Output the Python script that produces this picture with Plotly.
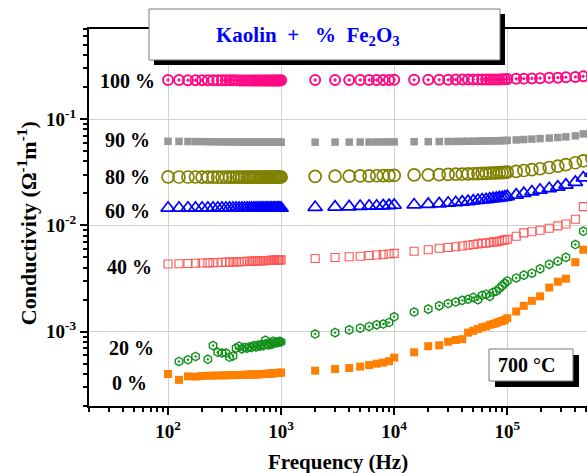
import plotly.graph_objects as go

FREQ = [100, 125, 150, 175, 200, 225, 250, 275, 300, 325, 350, 375, 400, 425, 450, 475, 500,
        525, 550, 575, 600, 625, 650, 675, 700, 725, 750, 775, 800, 825, 850, 875, 900, 925,
        950, 975, 1000,
        2000, 3000, 4000, 5000, 6000, 7000, 8000, 9000, 10000,
        15000, 20000, 25000, 30000, 35000, 40000, 45000, 50000, 55000, 60000, 65000, 70000,
        75000, 80000, 85000, 90000, 95000, 100000,
        120000, 140000, 165000, 195000, 235000, 280000, 330000, 400000, 470000, 560000]

S100 = [0.233, 0.233, 0.232, 0.232, 0.232, 0.232, 0.232, 0.232, 0.232, 0.232, 0.232, 0.232,
        0.232, 0.231, 0.231, 0.231, 0.231, 0.231, 0.231, 0.231, 0.231, 0.231, 0.231, 0.231,
        0.231, 0.231, 0.231, 0.231, 0.231, 0.231, 0.231, 0.231, 0.231, 0.231, 0.231, 0.231, 0.232,
        0.233, 0.233, 0.233, 0.233, 0.233, 0.233, 0.233, 0.233, 0.234,
        0.234, 0.234, 0.234, 0.234, 0.235, 0.235, 0.235, 0.235, 0.235, 0.235, 0.235, 0.236,
        0.236, 0.236, 0.236, 0.237, 0.237, 0.238,
        0.239, 0.240, 0.241, 0.242, 0.244, 0.245, 0.247, 0.249, 0.252, 0.255]

S90 = [0.0618, 0.0616, 0.0615, 0.0614, 0.0613, 0.0612, 0.0612, 0.0611, 0.0611, 0.0610, 0.0610,
       0.0610, 0.0609, 0.0609, 0.0609, 0.0608, 0.0608, 0.0608, 0.0608, 0.0607, 0.0607, 0.0607,
       0.0607, 0.0607, 0.0606, 0.0606, 0.0606, 0.0606, 0.0606, 0.0606, 0.0605, 0.0605, 0.0605,
       0.0605, 0.0605, 0.0605, 0.0605,
       0.0606, 0.0607, 0.0607, 0.0608, 0.0608, 0.0609, 0.0609, 0.0610, 0.0610,
       0.0612, 0.0613, 0.0614, 0.0615, 0.0616, 0.0617, 0.0618, 0.0619, 0.0620, 0.0621, 0.0622,
       0.0623, 0.0624, 0.0625, 0.0626, 0.0627, 0.0628, 0.0630,
       0.0636, 0.0642, 0.0648, 0.0655, 0.0662, 0.0670, 0.0680, 0.0695, 0.0725, 0.0770]

S80 = [0.0286, 0.0285, 0.0285, 0.0285, 0.0284, 0.0284, 0.0284, 0.0284, 0.0284, 0.0284, 0.0284,
       0.0284, 0.0284, 0.0284, 0.0284, 0.0284, 0.0284, 0.0284, 0.0284, 0.0284, 0.0284, 0.0284,
       0.0284, 0.0284, 0.0284, 0.0284, 0.0284, 0.0284, 0.0284, 0.0284, 0.0284, 0.0284, 0.0284,
       0.0284, 0.0284, 0.0284, 0.0285,
       0.0289, 0.0290, 0.0291, 0.0292, 0.0292, 0.0293, 0.0294, 0.0294, 0.0295,
       0.0298, 0.0299, 0.0300, 0.0302, 0.0303, 0.0304, 0.0305, 0.0306, 0.0307, 0.0308, 0.0309,
       0.0310, 0.0311, 0.0312, 0.0313, 0.0314, 0.0315, 0.0317,
       0.0322, 0.0328, 0.0334, 0.0341, 0.0350, 0.0360, 0.0372, 0.0388, 0.0405, 0.0425]

S60 = [0.01455, 0.01455, 0.01455, 0.01455, 0.01455, 0.01455, 0.01455, 0.01455, 0.01455, 0.01455,
       0.01455, 0.01455, 0.01455, 0.01455, 0.01455, 0.01455, 0.01455, 0.01455, 0.01455, 0.01455,
       0.01455, 0.01455, 0.01455, 0.01455, 0.01455, 0.01455, 0.01455, 0.01455, 0.01455, 0.01455,
       0.01455, 0.01455, 0.01455, 0.01455, 0.01455, 0.01455, 0.01455,
       0.0148, 0.0149, 0.0150, 0.0151, 0.0152, 0.0152, 0.0153, 0.0154, 0.0155,
       0.0156, 0.0158, 0.0160, 0.0162, 0.0164, 0.0166, 0.0168, 0.0170, 0.0172, 0.0174, 0.0175,
       0.0177, 0.0179, 0.0180, 0.0182, 0.0183, 0.0185, 0.0187,
       0.0193, 0.0200, 0.0207, 0.0215, 0.0222, 0.0230, 0.0240, 0.0255, 0.0280, 0.0310]

S40 = [0.00433, 0.00436, 0.00438, 0.00440, 0.00442, 0.00444, 0.00446, 0.00447, 0.00449, 0.00450,
       0.00451, 0.00453, 0.00454, 0.00455, 0.00456, 0.00457, 0.00458, 0.00459, 0.00460, 0.00461,
       0.00462, 0.00463, 0.00464, 0.00465, 0.00466, 0.00466, 0.00467, 0.00468, 0.00469, 0.00469,
       0.00470, 0.00471, 0.00471, 0.00472, 0.00473, 0.00473, 0.00474,
       0.00488, 0.00498, 0.00506, 0.00513, 0.00520, 0.00526, 0.00532, 0.00538, 0.00545,
       0.0057, 0.0059, 0.0061, 0.0062, 0.0063, 0.0064, 0.0065, 0.0066, 0.0067, 0.0068, 0.0068,
       0.0069, 0.0070, 0.0070, 0.0071, 0.0072, 0.0073, 0.0074,
       0.0079, 0.0085, 0.0087, 0.0090, 0.0094, 0.0099, 0.0103, 0.0114, 0.0150, 0.0158]

S20 = [None, 0.000525, 0.000545, 0.000585, None, 0.000550, 0.000740, 0.000640, 0.000630,
       0.000630, 0.000575, 0.000590, 0.000700, 0.000730, 0.000690, 0.000710, 0.000700,
       0.000720, 0.000710, 0.000740, 0.000720, 0.000750, 0.000730, 0.000760, 0.000740,
       0.000830, 0.000770, 0.000750, 0.000790, 0.000760, 0.000810, 0.000780, 0.000800,
       0.000790, 0.000800, 0.000810, 0.000800,
       0.00095, 0.00098, 0.00104, 0.00108, 0.00112, 0.00116, 0.00118, 0.00122, 0.00138,
       0.00153, 0.00163, 0.00175, 0.00184, 0.00190, 0.00197, 0.00202, 0.00210, 0.00200,
       0.00220, 0.00225, 0.00215, 0.00235, 0.00240, 0.00255, 0.00270, 0.00285, 0.00300,
       0.00320, 0.00340, 0.00355, 0.00390, 0.00430, 0.00460, 0.00500, 0.00660, 0.00880, 0.01050]

S0 = [0.000400, 0.000352, 0.000380, 0.000378, 0.000383, 0.000385, 0.000386, 0.000387,
      0.000388, 0.000389, 0.000390, 0.000390, 0.000391, 0.000392, 0.000392, 0.000393,
      0.000394, 0.000395, 0.000395, 0.000396, 0.000397, 0.000397, 0.000398, 0.000399,
      0.000400, 0.000401, 0.000402, 0.000403, 0.000404, 0.000405, 0.000406, 0.000407,
      0.000408, 0.000409, 0.000410, 0.000411, 0.000413,
      0.000430, 0.000445, 0.000455, 0.000470, 0.000485, 0.000500, 0.000512, 0.000528, 0.000570,
      0.000640, 0.000730, 0.000745, 0.000805, 0.000835, 0.000850, 0.000980, 0.001020,
      0.001060, 0.001100, 0.001120, 0.001160, 0.001180, 0.001210, 0.001240, 0.001260,
      0.001290, 0.001340,
      0.00155, 0.00175, 0.00195, 0.00215, 0.00260, 0.00295, 0.00315, 0.00450, 0.00590, 0.00750]

LABELS = ["100 %", "90 %", "80 %", "60 %", "40 %", "20 %", "0 %"]
SERIES = [S100, S90, S80, S60, S40, S20, S0]
COLORS = ["#FF0A84", "#979797", "#808000", "#0000FF", "#FF5555", "#11901A", "#FF8000"]
SYMBOLS = ["circle-open-dot", "square", "circle-open", "triangle-up-open", "square-open",
           "hexagon-open-dot", "square"]
SIZES = [10, 7.5, 12, 12.5, 8, 8.5, 8]
LWIDTH = [2, 0, 1.7, 1.7, 1.1, 1.4, 0]
# label anchor positions (paper coords)
LAB_POS = [(0.0773, 0.862), (0.0773, 0.7056), (0.0783, 0.6074), (0.0783, 0.5172),
           (0.0823, 0.370), (0.0863, 0.1538), (0.0823, 0.061)]

X_MAJOR = [1e2, 1e3, 1e4, 1e5]
X_MAJOR_TEXT = ["10<sup>2</sup>", "10<sup>3</sup>", "10<sup>4</sup>", "10<sup>5</sup>"]
Y_MAJOR = [1e-3, 1e-2, 1e-1]
Y_MAJOR_TEXT = ["10<sup>-3</sup>", "10<sup>-2</sup>", "10<sup>-1</sup>"]

FONT = "Liberation Serif, Times New Roman, serif"

fig = go.Figure()
order = [6, 5, 4, 3, 2, 1, 0]
for i in order:
    fig.add_trace(go.Scatter(
        x=FREQ, y=SERIES[i], mode="markers", name=LABELS[i], showlegend=False,
        marker=dict(symbol=SYMBOLS[i], size=SIZES[i], color=COLORS[i],
                    line=dict(color=COLORS[i], width=LWIDTH[i])),
        cliponaxis=True,
    ))

x_minor = [m * 10 ** e for e in range(1, 6) for m in range(2, 10)]
y_minor = [m * 10.0 ** e for e in range(-4, 0) for m in range(2, 10)]

fig.update_xaxes(
    type="log", range=[1.301, 5.705],
    tickmode="array", tickvals=X_MAJOR, ticktext=X_MAJOR_TEXT,
    ticks="outside", ticklen=7, tickwidth=2, tickcolor="black",
    tickfont=dict(family=FONT, size=19, color="black", weight="bold"),
    showline=True, linecolor="black", linewidth=2, mirror=True,
    showgrid=True, gridcolor="#d2d2d2", gridwidth=1, zeroline=False,
    minor=dict(tickmode="array", tickvals=x_minor, ticks="outside", ticklen=4,
               tickwidth=1.5, tickcolor="black", showgrid=False),
)
fig.update_yaxes(
    type="log", range=[-3.699, -0.153],
    tickmode="array", tickvals=Y_MAJOR, ticktext=Y_MAJOR_TEXT,
    ticks="outside", ticklen=7, tickwidth=2, tickcolor="black",
    tickfont=dict(family=FONT, size=19, color="black", weight="bold"),
    showline=True, linecolor="black", linewidth=2, mirror=False,
    showgrid=True, gridcolor="#d2d2d2", gridwidth=1, zeroline=False,
    minor=dict(tickmode="array", tickvals=y_minor, ticks="outside", ticklen=4,
               tickwidth=1.5, tickcolor="black", showgrid=False),
)

shapes = [
    # title box shadow + box
    dict(type="rect", xref="paper", yref="paper", x0=0.1305, x1=0.8353, y0=0.9045, y1=1.0398,
         fillcolor="black", line=dict(width=0), layer="above"),
    dict(type="rect", xref="paper", yref="paper", x0=0.1205, x1=0.8253, y0=0.9178, y1=1.053,
         fillcolor="white", line=dict(color="#7a7a7a", width=1), layer="above"),
    # temperature box shadow + box
    dict(type="rect", xref="paper", yref="paper", x0=0.8153, x1=0.984, y0=0.0504, y1=0.1353,
         fillcolor="black", line=dict(width=0), layer="above"),
    dict(type="rect", xref="paper", yref="paper", x0=0.8032, x1=0.9719, y0=0.0663, y1=0.1512,
         fillcolor="white", line=dict(color="#7a7a7a", width=1), layer="above"),
]

annotations = [
    dict(text="<b>Kaolin  +   %  Fe<sub>2</sub>O<sub>3</sub></b>", xref="paper", yref="paper",
         x=0.4398, y=0.982, xanchor="center", yanchor="middle", showarrow=False,
         font=dict(family=FONT, size=21, color="#0000FF")),
    dict(text="<b>700 °C</b>", xref="paper", yref="paper", x=0.879, y=0.1088,
         xanchor="center", yanchor="middle", showarrow=False,
         font=dict(family=FONT, size=20, color="black")),
    dict(text="<b>Frequency (Hz)</b>", xref="paper", yref="paper", x=0.5, y=-0.149,
         xanchor="center", yanchor="middle", showarrow=False,
         font=dict(family=FONT, size=21, color="black")),
    dict(text="<b>Conductivity (Ω<sup>-1</sup>m<sup>-1</sup>)</b>", xref="paper", yref="paper",
         x=-0.1245, y=0.485, xanchor="center", yanchor="middle", textangle=-90, showarrow=False,
         font=dict(family=FONT, size=22, color="black")),
]
for lab, (px, py) in zip(LABELS, LAB_POS):
    annotations.append(dict(text="<b>" + lab + "</b>", xref="paper", yref="paper", x=px, y=py,
                            xanchor="center", yanchor="middle", showarrow=False,
                            font=dict(family=FONT, size=20, color="black")))

fig.update_layout(
    width=587, height=473,
    margin=dict(l=89, r=0, t=29, b=67),
    paper_bgcolor="white", plot_bgcolor="white",
    shapes=shapes, annotations=annotations,
    showlegend=False,
)

fig.write_html("out.html")
